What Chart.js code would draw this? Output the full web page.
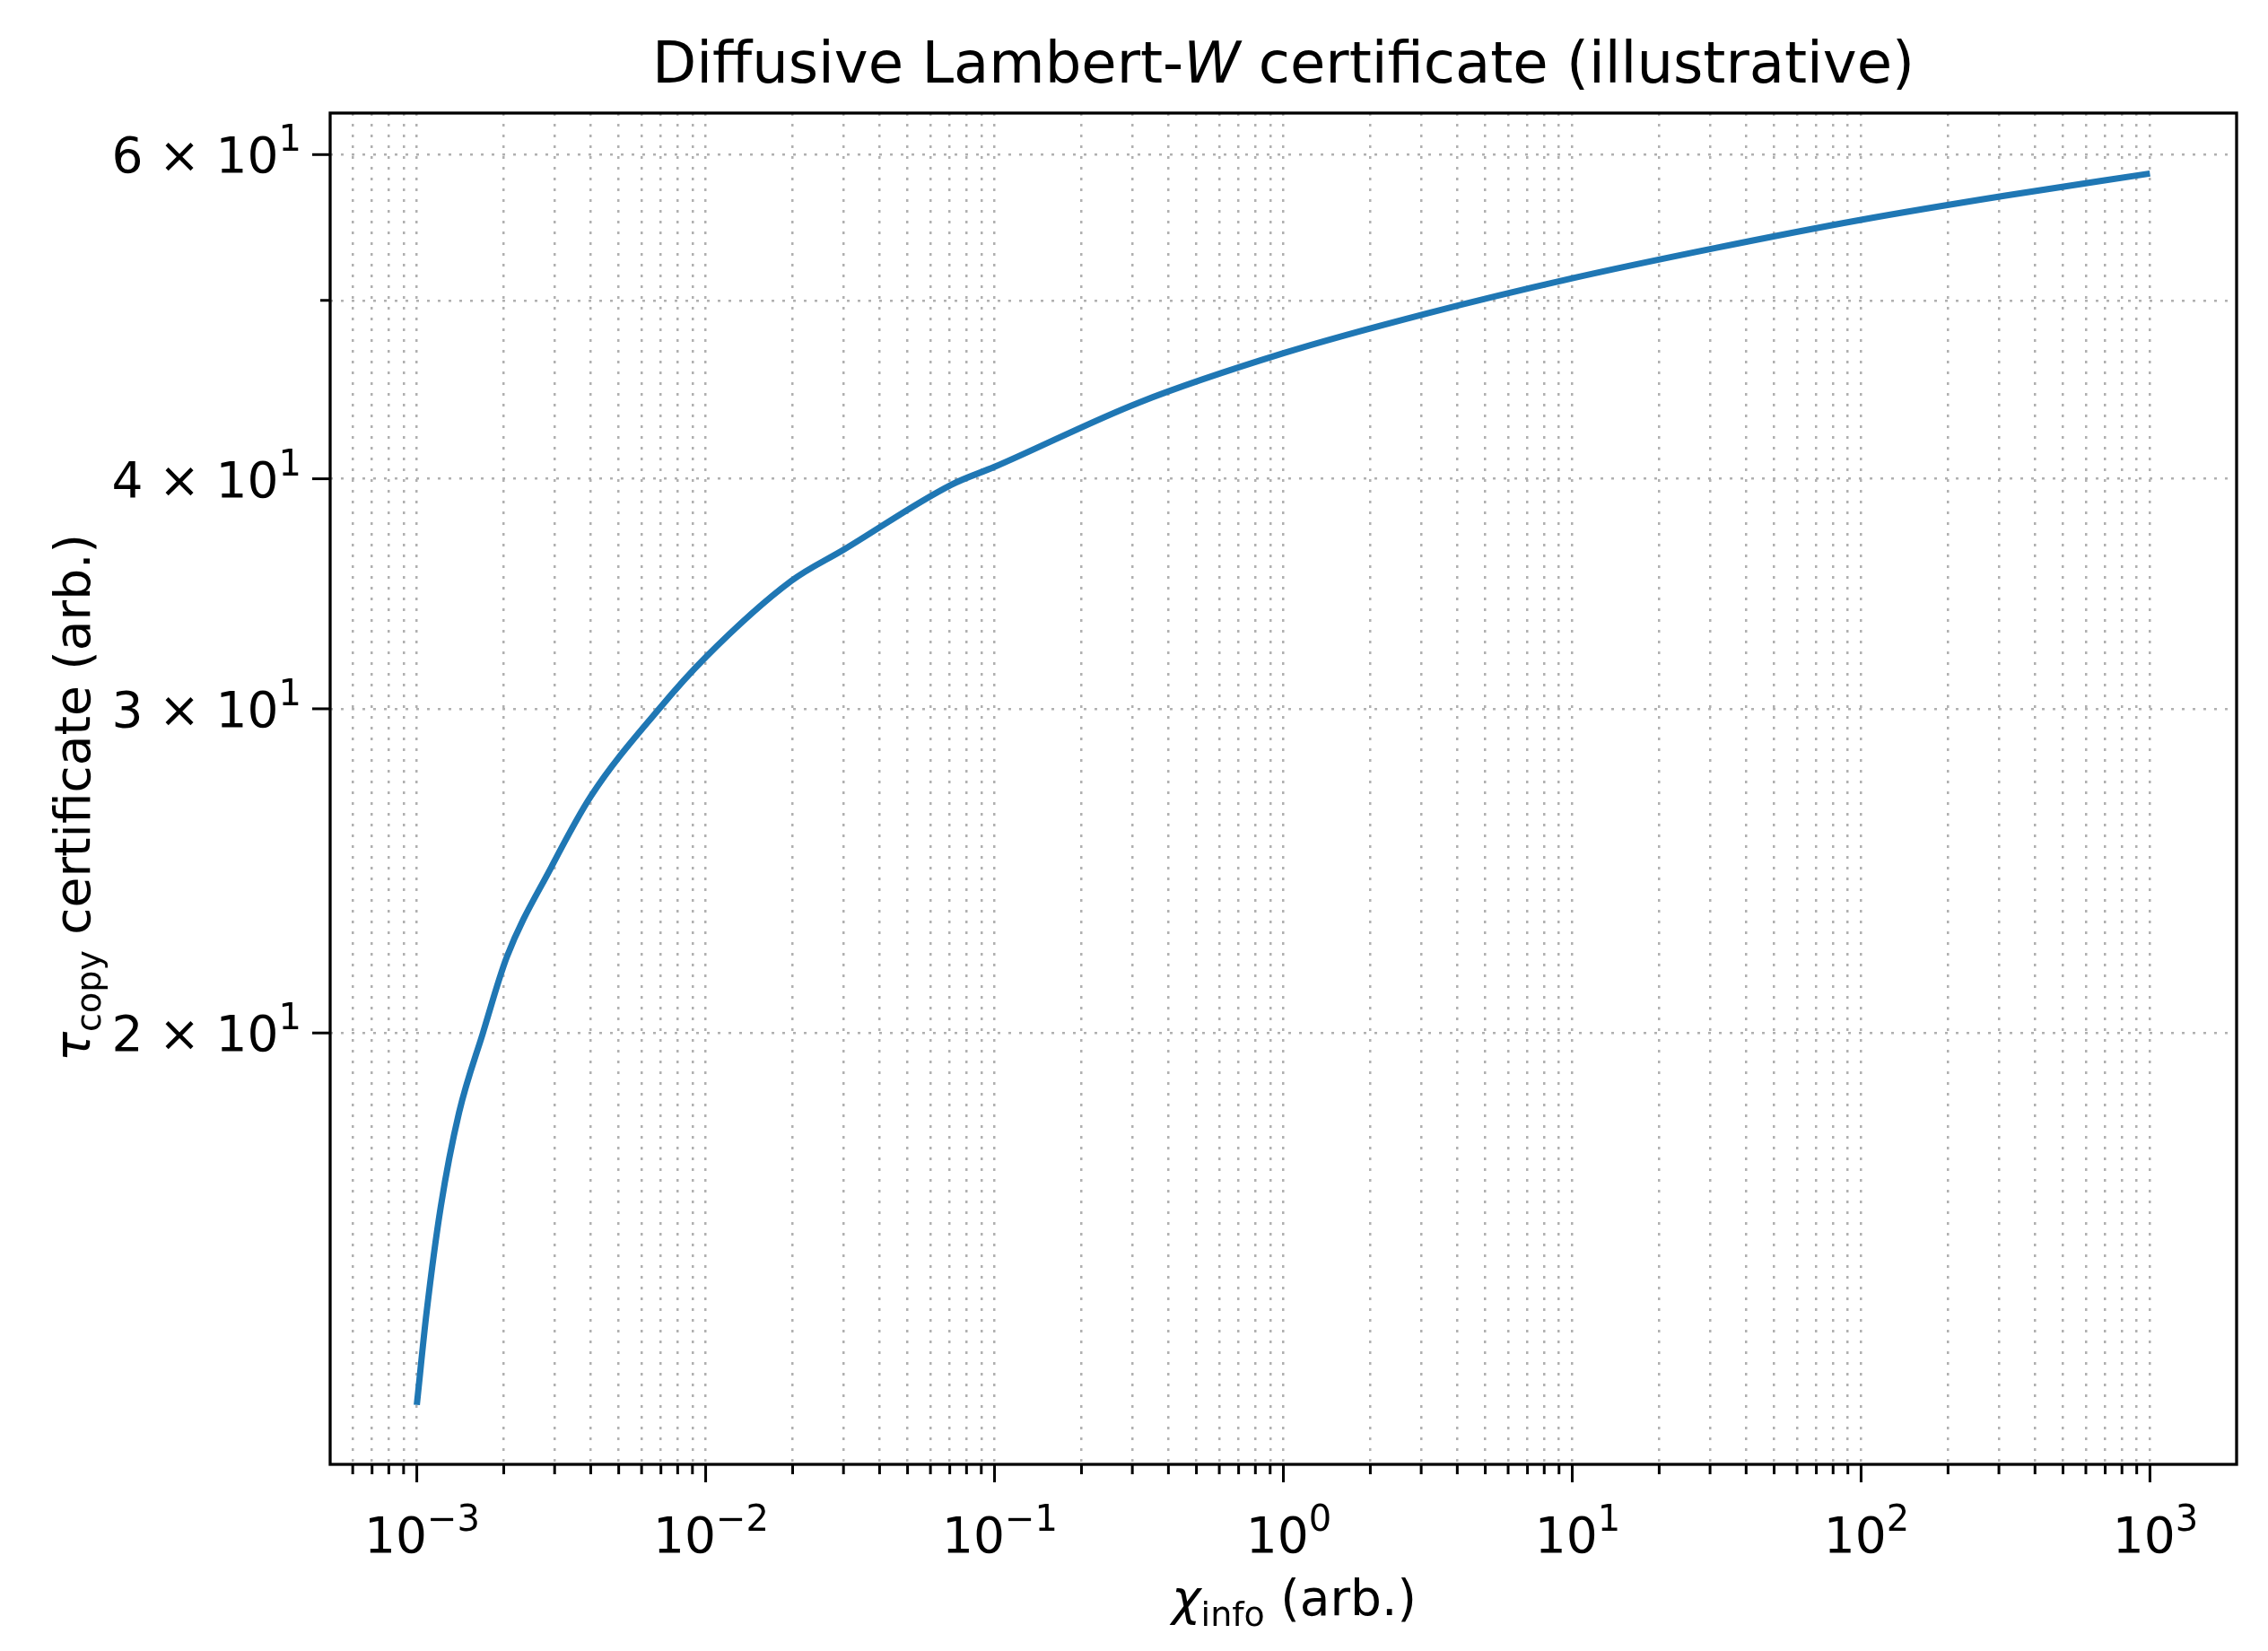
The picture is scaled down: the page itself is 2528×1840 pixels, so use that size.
<!DOCTYPE html>
<html><head><meta charset="utf-8">
<script src="https://cdn.jsdelivr.net/npm/chart.js@4/dist/chart.umd.min.js"></script>
<style>html,body{margin:0;padding:0;background:#fff}#wrap{width:2528px;height:1840px}</style>
</head><body><div id="wrap"><canvas id="c" width="2528" height="1840"></canvas></div>
<script>
const chiValues = [1e-3, 1.081e-3, 1.211e-3, 1.400e-3, 1.694e-3, 2.051e-3, 2.917e-3, 4.009e-3, 6.90e-3, 1e-2, 1.977e-2, 3.0e-2, 7.08e-2, 1e-1, 0.316, 1, 3.16, 10, 31.6, 100, 316, 1000];
const tauValues = [12.56, 14.1, 16.1, 18.1, 20.0, 22.0, 24.6, 26.9, 30.0, 32.0, 35.2, 36.6, 39.7, 40.6, 44.0, 46.8, 49.2, 51.4, 53.4, 55.3, 57.0, 58.6];
const xMajorTicks = [1e-3, 1e-2, 1e-1, 1e0, 1e1, 1e2, 1e3];
const xTickExponents = ['−3', '−2', '−1', '0', '1', '2', '3'];
const yTicks = [20, 30, 40, 50, 60];
const yTickMantissas = ['2', '3', '4', '', '6'];

const xMinorTicks = [];
for (let e = -4; e <= 3; e++) for (let m = 2; m <= 9; m++) {
  const v = m * Math.pow(10, e);
  if (v > 10 ** -3.3 && v < 10 ** 3.3) xMinorTicks.push(+v.toPrecision(3));
}
const xAllTicks = xMajorTicks.concat(xMinorTicks).sort((a, b) => a - b);
const FONT = '"DejaVu Sans", sans-serif';
const isMajor = v => xMajorTicks.some(m => Math.abs(m - v) / m < 1e-6);

function runs(ctx, parts) { // parts: [text, fontSize, style, dy]
  let w = 0;
  parts.forEach(p => { ctx.font = `${p[2] || ''}${p[1]}px ${FONT}`; w += ctx.measureText(p[0]).width; });
  return w;
}
function drawRuns(ctx, parts, x, y) {
  parts.forEach(p => { ctx.font = `${p[2] || ''}${p[1]}px ${FONT}`; ctx.fillText(p[0], x, y + (p[3] || 0)); x += ctx.measureText(p[0]).width; });
}

const textPlugin = {
  id: 'texts',
  afterDraw(chart) {
    const ctx = chart.ctx, xs = chart.scales.x, ys = chart.scales.y, a = chart.chartArea;
    ctx.save();
    ctx.strokeStyle = '#000'; ctx.lineWidth = 3;
    xAllTicks.forEach(v => {
      const px = xs.getPixelForValue(v), L = isMajor(v) ? 20 : 11;
      ctx.beginPath(); ctx.moveTo(px, a.bottom); ctx.lineTo(px, a.bottom + L); ctx.stroke();
    });
    yTicks.forEach((v, i) => {
      const py = ys.getPixelForValue(v), L = yTickMantissas[i] ? 20 : 11;
      ctx.beginPath(); ctx.moveTo(a.left, py); ctx.lineTo(a.left - L, py); ctx.stroke();
    });
    ctx.lineWidth = 3.3;
    ctx.strokeRect(a.left, a.top, a.right - a.left, a.bottom - a.top);
    ctx.fillStyle = '#000';
    ctx.textAlign = 'left'; ctx.textBaseline = 'alphabetic';
    xMajorTicks.forEach((v, i) => {
      const parts = [['10', 55], [xTickExponents[i], 40, '', -24]];
      const w = runs(ctx, parts);
      drawRuns(ctx, parts, xs.getPixelForValue(v) - w / 2 + 6, 1730);
    });
    yTicks.forEach((v, i) => {
      if (!yTickMantissas[i]) return;
      const parts = [[yTickMantissas[i] + ' × 10', 55], ['1', 40, '', -24]];
      const w = runs(ctx, parts);
      drawRuns(ctx, parts, 336 - w, ys.getPixelForValue(v) + 20);
    });
    const title = [['Diffusive Lambert-', 64], ['W', 64, 'italic '], [' certificate (illustrative)', 64]];
    let w = runs(ctx, title);
    drawRuns(ctx, title, (a.left + a.right) / 2 - w / 2, 92);
    const xl = [['χ', 55, 'italic '], ['info', 38, '', 12], [' (arb.)', 55]];
    w = runs(ctx, xl);
    drawRuns(ctx, xl, (a.left + a.right) / 2 - w / 2 + 12, 1800);
    ctx.translate(100, (a.top + a.bottom) / 2 + 10); ctx.rotate(-Math.PI / 2);
    const yl = [['τ', 55, 'italic '], ['copy', 38, '', 12], [' certificate (arb.)', 55]];
    w = runs(ctx, yl);
    drawRuns(ctx, yl, -w / 2, 0);
    ctx.restore();
  }
};

const gridCommon = { color: '#b0b0b0', lineWidth: 2.5, drawTicks: false };
new Chart(document.getElementById('c'), {
  type: 'line',
  data: { datasets: [{
    data: chiValues.map((x, i) => ({ x, y: tauValues[i] })),
    borderColor: '#1f77b4', borderWidth: 7, pointRadius: 0, fill: false,
    cubicInterpolationMode: 'monotone'
  }] },
  options: {
    responsive: false, animation: false, devicePixelRatio: 1,
    layout: { padding: { top: 126, right: 35, left: 0, bottom: 0 } },
    plugins: { legend: { display: false }, tooltip: { enabled: false }, title: { display: false } },
    scales: {
      x: {
        type: 'logarithmic', min: Math.pow(10, -3.3), max: Math.pow(10, 3.3),
        grid: gridCommon, border: { display: false, dash: [3, 9] },
        ticks: { display: false },
        afterBuildTicks: s => { s.ticks = xAllTicks.map(v => ({ value: v })); },
        afterFit: s => { s.height = 208; }
      },
      y: {
        type: 'logarithmic', min: 11.66, max: 63.2,
        grid: gridCommon, border: { display: false, dash: [3, 9] },
        ticks: { display: false },
        afterBuildTicks: s => { s.ticks = yTicks.map(v => ({ value: v })); },
        afterFit: s => { s.width = 368; }
      }
    }
  },
  plugins: [textPlugin]
});
</script></body></html>
